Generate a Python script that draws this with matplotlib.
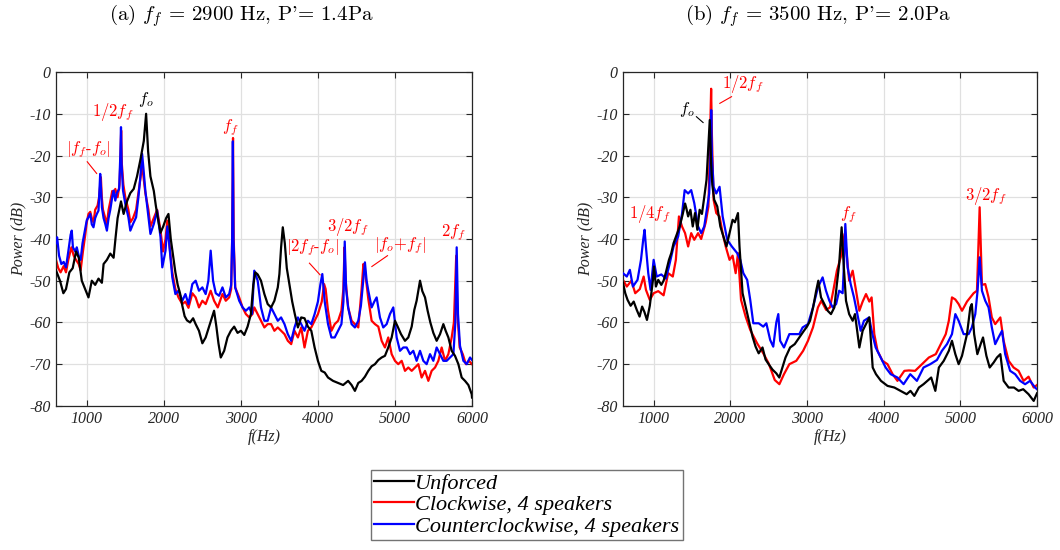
import numpy as np
import matplotlib
matplotlib.use("Agg")
import matplotlib.pyplot as plt

plt.rcParams['mathtext.fontset'] = 'cm'
plt.rcParams['font.family'] = ['Liberation Serif', 'DejaVu Serif']

# ---- panel (a): f_f = 2900 Hz ----
a_unf_f = [600, 652, 696, 730, 774, 817, 861, 896, 935, 978, 1022, 1065, 1109, 1152, 1196, 1218, 1261, 1305, 1348,
           1374, 1400, 1444, 1478, 1522, 1565, 1609, 1652, 1696, 1740, 1770, 1796, 1826, 1870, 1896, 1922, 1957, 1992,
           2030, 2060, 2090, 2120, 2150, 2180, 2210, 2240, 2270, 2300, 2340, 2380, 2413, 2456, 2500, 2543, 2587, 2622,
           2652, 2682, 2709, 2739, 2783, 2826, 2870, 2913, 2957, 3000, 3044, 3087, 3130, 3161, 3187, 3218, 3261, 3305,
           3348, 3392, 3435, 3479, 3500, 3522, 3544, 3570, 3596, 3631, 3666, 3700, 3740, 3783, 3826, 3870, 3914, 3957,
           4000, 4044, 4088, 4131, 4196, 4262, 4327, 4392, 4437, 4480, 4524, 4567, 4610, 4654, 4697, 4740, 4784, 4827,
           4870, 4913, 4957, 5000, 5035, 5078, 5130, 5173, 5217, 5251, 5281, 5325, 5355, 5390, 5424, 5459, 5498, 5541,
           5585, 5628, 5658, 5693, 5736, 5779, 5823, 5866, 5909, 5953, 5996, 6000]
a_unf_db = [-47.5, -50, -53, -52, -48, -47, -43, -44.5, -50, -52, -54, -50, -51, -49.5, -50.5, -46, -45, -43.5, -44.5,
            -39.6, -35, -31, -34, -31, -29, -28, -25, -21, -16.5, -10, -19, -25, -28.5, -32, -35, -38.5, -37,
            -35, -34, -40, -44, -48, -51, -53, -56, -58.5, -59.5, -60, -59, -60.4, -62, -65, -63.6, -61, -59,
            -57.2, -61, -65, -68.4, -66.8, -63.6, -62, -61, -62.5, -62, -63, -61, -58, -51, -48, -48.5, -50, -53.2,
            -55.6, -56.4, -54.8, -51.6, -48.4, -42, -37.2, -41, -47, -51, -55, -58, -61.2, -58.8, -59, -61, -62, -66,
            -69.2, -71.6, -72, -73.2, -74, -74.5, -75, -74, -75, -76.4, -74.5, -74, -73, -71.6, -70.5, -70, -69, -68.4,
            -68, -66, -63.6, -59.6, -61, -62.8, -64.4, -63.6, -61, -57, -54.8, -50, -52.5, -54, -57.2, -60, -62.5, -64.4,
            -62.8, -60.4, -62, -63.6, -66.8, -68, -70, -73.2, -74, -75, -77.2, -78]

a_cw_f = [600, 630, 660, 700, 730, 760, 800, 830, 860, 895, 920, 950, 980, 1000, 1022, 1045, 1065, 1087, 1109, 1140,
          1160, 1183, 1195, 1210, 1240, 1261, 1283, 1305, 1330, 1348, 1370, 1400, 1425, 1438, 1446, 1455, 1475, 1500,
          1540, 1565, 1600, 1640, 1670, 1700, 1718, 1735, 1760, 1800, 1826, 1870, 1913, 1957, 1990, 2022, 2045, 2070,
          2110, 2150, 2190, 2240, 2280, 2320, 2370, 2413, 2456, 2500, 2543, 2608, 2652, 2700, 2761, 2804, 2848, 2874,
          2887, 2898, 2907, 2926, 2978, 3022, 3065, 3109, 3150, 3174, 3218, 3261, 3305, 3348, 3392, 3435, 3479, 3522,
          3566, 3609, 3653, 3696, 3740, 3783, 3826, 3870, 3914, 3957, 4000, 4050, 4080, 4100, 4131, 4175, 4218, 4262,
          4305, 4330, 4345, 4360, 4392, 4437, 4480, 4524, 4567, 4590, 4610, 4654, 4697, 4740, 4784, 4827, 4870, 4913,
          4957, 5000, 5043, 5087, 5130, 5173, 5217, 5260, 5303, 5346, 5390, 5433, 5476, 5520, 5563, 5606, 5650, 5693,
          5736, 5765, 5795, 5810, 5840, 5880, 5920, 5960, 6000]
a_cw_db = [-45, -47, -48, -46.5, -48, -45, -42, -44, -45, -46, -47.5, -43, -39, -36, -34, -33.5, -35, -36, -33, -32,
           -30, -25.2, -30, -33, -35, -36.5, -33, -31, -28.5, -29.5, -28, -30, -27, -20, -14, -22, -27, -30,
           -33, -36, -35, -33, -29, -25, -22, -25, -29, -33, -37, -35, -33, -38, -43, -40, -35.6, -41,
           -48, -52, -54, -55.6, -55, -56.5, -53, -54, -56.4, -54.8, -55.6, -52.4, -54.8, -56.4, -53.2, -54.8, -54, -52,
           -40, -15.8, -40, -51.6, -54, -56.4, -58, -58.8, -58, -56.4, -58, -59.6, -61.2, -60.4, -60.4, -62, -61.2, -62,
           -62.8, -64.4, -65.2, -62, -63.6, -61.2, -66, -62, -61.2, -59.6, -58, -55, -50.8, -52, -57.2, -62, -60.4, -59.6,
           -57.2, -52, -42, -50, -56.4, -59.6, -60.4, -61.2, -52, -46, -47.5, -54.4, -59.6, -60.4, -61, -64.4, -66, -63.6,
           -67.6, -69.2, -70, -69.2, -71.6, -70.8, -71.6, -70.8, -70, -73.2, -71.6, -74, -71.6, -70.8, -69.2, -66, -69.2, -67.6,
           -63.6, -60, -44, -58, -66, -67.6, -70, -69.2, -70]

a_ccw_f = [600, 615, 640, 670, 700, 730, 760, 790, 805, 820, 850, 870, 895, 920, 945, 975, 1000, 1022, 1045, 1065,
           1087, 1109, 1130, 1152, 1165, 1174, 1185, 1196, 1218, 1240, 1261, 1283, 1305, 1330, 1348, 1370, 1390, 1420,
           1435, 1444, 1452, 1470, 1500, 1540, 1565, 1600, 1640, 1670, 1695, 1718, 1735, 1760, 1800, 1826, 1870, 1913,
           1957, 1980, 2022, 2045, 2070, 2110, 2150, 2190, 2240, 2280, 2320, 2370, 2413, 2456, 2500, 2543, 2578, 2608,
           2639, 2674, 2717, 2761, 2804, 2848, 2874, 2887, 2896, 2904, 2926, 2978, 3022, 3065, 3109, 3144, 3174, 3218,
           3261, 3305, 3348, 3392, 3435, 3479, 3522, 3566, 3609, 3653, 3696, 3740, 3783, 3826, 3870, 3914, 3957, 4000,
           4031, 4057, 4088, 4131, 4175, 4218, 4262, 4305, 4331, 4348, 4366, 4392, 4437, 4480, 4524, 4558, 4588, 4610,
           4632, 4654, 4697, 4732, 4762, 4805, 4848, 4892, 4935, 4978, 5022, 5065, 5108, 5152, 5195, 5238, 5281, 5325,
           5368, 5411, 5455, 5498, 5541, 5585, 5628, 5671, 5714, 5758, 5784, 5801, 5818, 5844, 5888, 5931, 5974, 6000]
a_ccw_db = [-41, -39.6, -44, -46, -45.5, -46.8, -43, -39, -38, -42, -43, -42, -44, -45, -41, -38, -35.5, -34.8, -34, -36.5,
            -37.2, -35, -34, -33.2, -28, -24.4, -28, -32.4, -35, -36.4, -38, -35, -33, -30, -28.4, -30.8, -29, -28,
            -20, -13.2, -22, -28.4, -31.6, -34.8, -38, -36.4, -34.8, -30, -25.2, -19.6, -23, -28.4, -34.8, -38.8, -36.4, -33.2,
            -39.6, -46.8, -42.8, -37, -41.2, -49.2, -53.2, -52.4, -54.8, -53.2, -55.6, -50.8, -50, -52.4, -51.6, -53.2, -50, -42.8,
            -50, -53, -53.6, -51.6, -54, -53.2, -51, -40, -16.6, -40, -51.6, -54.8, -56.4, -57.2, -56.4, -58, -47.6, -50,
            -56.4, -59.6, -59.6, -56.4, -58, -59.6, -58.8, -60.4, -62.8, -64.4, -61.2, -58.8, -60.4, -62, -59.6, -60.4, -58, -55,
            -51, -48.4, -55, -60.4, -63.6, -63.6, -62, -60.4, -55, -40.6, -52, -56.4, -60.4, -61.2, -59.6, -56, -50, -45.6,
            -50, -52.4, -56.4, -55, -54, -58.8, -61.2, -60.4, -58, -56.4, -63.6, -66.8, -66, -66, -67.6, -66.8, -69.2, -66.8,
            -69.2, -70, -67.6, -69.2, -66, -67.6, -69.2, -69.2, -68.4, -67.6, -60, -42, -58, -65.6, -69.2, -70, -68.4, -69]

# ---- panel (b): f_f = 3500 Hz ----
b_unf_f = [600, 630, 660, 700, 740, 780, 817, 850, 880, 913, 950, 990, 1005, 1030, 1060, 1100, 1130, 1160, 1200, 1230,
           1260, 1300, 1340, 1380, 1410, 1425, 1450, 1480, 1510, 1540, 1570, 1600, 1630, 1660, 1690, 1710, 1732, 1750,
           1765, 1790, 1830, 1870, 1910, 1950, 1990, 2030, 2060, 2100, 2120, 2160, 2200, 2250, 2290, 2330, 2370, 2420,
           2460, 2500, 2550, 2600, 2639, 2680, 2720, 2780, 2840, 2900, 2960, 3000, 3040, 3080, 3120, 3148, 3183, 3226,
           3270, 3313, 3357, 3390, 3420, 3452, 3478, 3509, 3550, 3596, 3626, 3683, 3726, 3770, 3813, 3857, 3900, 3965,
           4050, 4140, 4220, 4300, 4350, 4400, 4460, 4520, 4570, 4620, 4674, 4720, 4784, 4850, 4891, 4935, 4978, 5022,
           5087, 5130, 5150, 5180, 5222, 5265, 5296, 5340, 5383, 5435, 5478, 5522, 5565, 5630, 5700, 5760, 5820, 5890,
           5957, 6000]
b_unf_db = [-50.5, -53, -54.6, -56, -55, -57, -58.6, -56.2, -57.5, -59.4, -56, -50, -46.6, -51.4, -49.8, -51, -50, -48, -45, -43.4,
            -41, -39, -37, -34, -31.5, -32.5, -34.6, -33, -37, -33.8, -37.8, -33, -34, -30, -25.8, -19, -11.5, -22,
            -27, -30.6, -32.2, -37, -39.4, -41.8, -38.6, -35.4, -36, -33.8, -41.8, -53, -56.2, -60.2, -63.4, -65.8, -67.4, -66,
            -68.9, -70, -71.3, -72.2, -73.2, -70.8, -68.4, -66, -65.2, -63.6, -62, -61, -59.6, -56.4, -52.4, -50, -54, -55.6,
            -57.2, -58, -56.4, -50.8, -46, -37.2, -46, -54.8, -58, -59.6, -58, -66, -62, -60.4, -58.8, -70.8, -72.4, -74,
            -75.2, -75.6, -76.4, -77.2, -76.4, -77.6, -75.6, -74.8, -74, -73.2, -76.4, -70.8, -69.2, -66.8, -64.4, -67.6, -70, -68,
            -62.8, -56.4, -55.6, -62.8, -67.6, -65.2, -63.6, -68, -70.8, -69.6, -68.4, -67.6, -74, -75.6, -75.6, -76.4, -76, -77.2,
            -78.8, -77]

b_cw_f = [600, 650, 710, 760, 820, 870, 900, 950, 1000, 1060, 1130, 1190, 1250, 1290, 1330, 1370, 1410, 1450, 1490, 1530,
          1580, 1620, 1680, 1715, 1740, 1750, 1760, 1782, 1817, 1860, 1900, 1940, 1990, 2030, 2070, 2100, 2140, 2200,
          2260, 2350, 2430, 2500, 2580, 2640, 2700, 2770, 2860, 2950, 3013, 3078, 3143, 3187, 3250, 3300, 3343, 3390,
          3440, 3490, 3520, 3550, 3596, 3640, 3683, 3726, 3770, 3813, 3843, 3878, 3920, 3985, 4050, 4117, 4180, 4270,
          4330, 4410, 4500, 4590, 4680, 4745, 4810, 4850, 4891, 4935, 4978, 5022, 5087, 5130, 5173, 5217, 5252, 5282,
          5325, 5368, 5411, 5455, 5522, 5565, 5630, 5695, 5760, 5825, 5890, 5957, 6000]
b_cw_db = [-49.8, -51.4, -50, -53, -52, -49, -52.2, -54.6, -53, -52.5, -53.5, -48.2, -49, -45, -34.6, -37, -38.6, -41.8, -38.6, -40.2,
           -38.6, -40, -36, -32.2, -12, -4, -15, -30.6, -33.8, -34.6, -38.6, -41.8, -45, -44, -48.2, -43.4, -54.6, -58.6,
           -61.8, -65, -67.4, -69.8, -73.8, -74.8, -72.4, -70, -69.2, -66.8, -64.4, -61.2, -56.4, -54.8, -57, -56.4, -52.4, -47.6,
           -44.4, -38.8, -44, -50, -47.6, -52.4, -57.2, -55, -53.2, -55, -54, -62.8, -66.8, -69.2, -70, -72.4, -74, -71.6,
           -71.5, -71.6, -70, -68.4, -67.6, -65.2, -62.8, -59.6, -54, -54.5, -55.6, -57.2, -55, -54, -53, -52.4, -32.4, -51,
           -50.8, -54, -58.8, -60.4, -58.8, -64.4, -69.2, -70.8, -71.6, -74, -73, -75.6, -75]

b_ccw_f = [600, 650, 690, 730, 790, 835, 865, 882, 900, 930, 960, 1000, 1040, 1100, 1160, 1200, 1260, 1320, 1370, 1405,
           1450, 1490, 1530, 1580, 1620, 1660, 1700, 1725, 1742, 1751, 1760, 1782, 1817, 1860, 1900, 1960, 2020, 2090,
           2130, 2170, 2220, 2260, 2300, 2370, 2430, 2470, 2520, 2560, 2600, 2626, 2650, 2700, 2770, 2830, 2900, 2943,
           3013, 3078, 3143, 3204, 3248, 3292, 3335, 3380, 3420, 3465, 3485, 3500, 3530, 3570, 3613, 3657, 3700, 3743,
           3810, 3853, 3896, 3961, 4026, 4092, 4180, 4260, 4347, 4434, 4520, 4608, 4695, 4760, 4826, 4891, 4935, 4978,
           5043, 5108, 5150, 5195, 5225, 5252, 5282, 5325, 5368, 5411, 5455, 5498, 5544, 5585, 5650, 5715, 5780, 5845,
           5910, 5975, 6000]
b_ccw_db = [-48.2, -49, -47.4, -51.4, -49.8, -45, -40, -37.8, -42, -48.2, -52.2, -45, -49, -48.5, -49.5, -46.6, -41.8, -39.4, -34, -28.3,
            -29.1, -28.3, -31.4, -37, -38.6, -37, -32.2, -29.1, -20, -9.1, -20, -27.5, -29.1, -27.5, -34.6, -40.2, -41.8, -43.4,
            -45, -48.2, -49.8, -54.6, -60.2, -60.2, -61, -60.2, -64.2, -65.8, -60, -58, -64.4, -66, -62.8, -62.8, -62.8, -61.2,
            -60.4, -56.4, -51.6, -49.2, -52.4, -54.8, -56.4, -55.6, -52.4, -53, -45, -36.4, -46.8, -50.8, -54, -58, -62, -59.6,
            -58.8, -62.8, -66, -68.4, -70.8, -72.4, -73.2, -74.8, -72.4, -74, -70.8, -70, -69, -66.8, -65.2, -62.8, -58, -59.6,
            -62.8, -62.8, -61.2, -58, -52.4, -44.4, -52.4, -54.8, -56.4, -61.2, -65.2, -63.6, -62, -67.6, -71.6, -72.4, -74, -74.8,
            -74, -75.6, -76]

labels = ["Unforced", "Clockwise, 4 speakers", "Counterclockwise, 4 speakers"]
colors = ["black", "red", "blue"]
titles = [r"(a) $f_f$ = 2900 Hz, P'= 1.4Pa", r"(b) $f_f$ = 3500 Hz, P'= 2.0Pa"]

# annotation text, position, colour, optional leader line
notes_a = [(r"$f_o$", 1760, -6.6, 'k', None),
           (r"$1/2f_f$", 1340, -9.6, 'r', None),
           (r"$|f_f$-$f_o|$", 1016, -18.5, 'r', ((1006, 1128), (-21.5, -24.3))),
           (r"$f_f$", 2860, -13.4, 'r', None),
           (r"$|2f_f$-$f_o|$", 3925, -42.0, 'r', ((3890, 4028), (-45.8, -48.6))),
           (r"$3/2f_f$", 4390, -37.2, 'r', None),
           (r"$|f_o$+$f_f|$", 5067, -41.6, 'r', ((4700, 4903), (-46.6, -44.0))),
           (r"$2f_f$", 5760, -38.4, 'r', None)]
notes_b = [(r"$1/2f_f$", 2168, -2.9, 'r', ((1863, 2016), (-7.5, -5.9))),
           (r"$f_o$", 1427, -8.9, 'k', ((1558, 1645), (-10.7, -12.1))),
           (r"$1/4f_f$", 948, -34.1, 'r', None),
           (r"$f_f$", 3545, -34.1, 'r', None),
           (r"$3/2f_f$", 5327, -29.7, 'r', None)]

fig = plt.figure(figsize=(10.6, 5.5), dpi=100)
axes = [fig.add_axes([0.0528, 0.262, 0.3925, 0.607]),
        fig.add_axes([0.5877, 0.262, 0.3906, 0.607])]

series = [[(a_unf_f, a_unf_db), (a_cw_f, a_cw_db), (a_ccw_f, a_ccw_db)],
          [(b_unf_f, b_unf_db), (b_cw_f, b_cw_db), (b_ccw_f, b_ccw_db)]]
zorders = [4, 2, 3]

handles = []
for k, ax in enumerate(axes):
    for j, (f, p) in enumerate(series[k]):
        h, = ax.plot(f, p, color=colors[j], lw=1.6, zorder=zorders[j], label=labels[j])
        if k == 0:
            handles.append(h)
    ax.set_xlim(600, 6000)
    ax.set_ylim(-80, 0)
    ax.set_xticks([1000, 2000, 3000, 4000, 5000, 6000])
    ax.set_xticklabels(["1000", "2000", "3000", "4000", "5000", "6000"])
    ax.set_yticks(np.arange(-80, 1, 10))
    ax.set_yticklabels([str(v) for v in range(-80, 1, 10)])
    ax.grid(True, color='0.88', lw=0.9)
    ax.set_axisbelow(True)
    ax.tick_params(direction='in', top=True, right=True, length=4, width=0.8,
                   labelsize=11.5, colors='0.15', pad=4)
    for lbl in ax.get_xticklabels() + ax.get_yticklabels():
        lbl.set_fontstyle('italic')
    for s in ax.spines.values():
        s.set_color('0.15')
        s.set_linewidth(0.9)
    ax.set_xlabel("f(Hz)", fontsize=11.5, style='italic', color='0.15', labelpad=1)
    ax.set_ylabel("Power (dB)", fontsize=11.5, style='italic', color='0.15', labelpad=2)

    notes = notes_a if k == 0 else notes_b
    for txt, x, y, c, line in notes:
        ax.text(x, y, txt, color=c, fontsize=12, ha='center', va='center',
                family=['cmr10', 'DejaVu Serif'], zorder=6)
        if line is not None:
            ax.plot(line[0], line[1], color=c, lw=0.8, zorder=6)

fig.text(0.228, 0.972, titles[0], fontsize=15, ha='center', va='center', family=['cmr10', 'DejaVu Serif'])
fig.text(0.772, 0.972, titles[1], fontsize=15, ha='center', va='center', family=['cmr10', 'DejaVu Serif'])

leg = fig.legend(handles, labels, loc='center', bbox_to_anchor=(0.497, 0.082),
                 prop={'style': 'italic', 'size': 16}, fancybox=False, edgecolor='0.45', framealpha=1,
                 handlelength=1.8, handletextpad=0.05, borderpad=0.15, labelspacing=0.05, borderaxespad=0)
leg.get_frame().set_linewidth(1.0)

fig.savefig("out.png", dpi=100)
